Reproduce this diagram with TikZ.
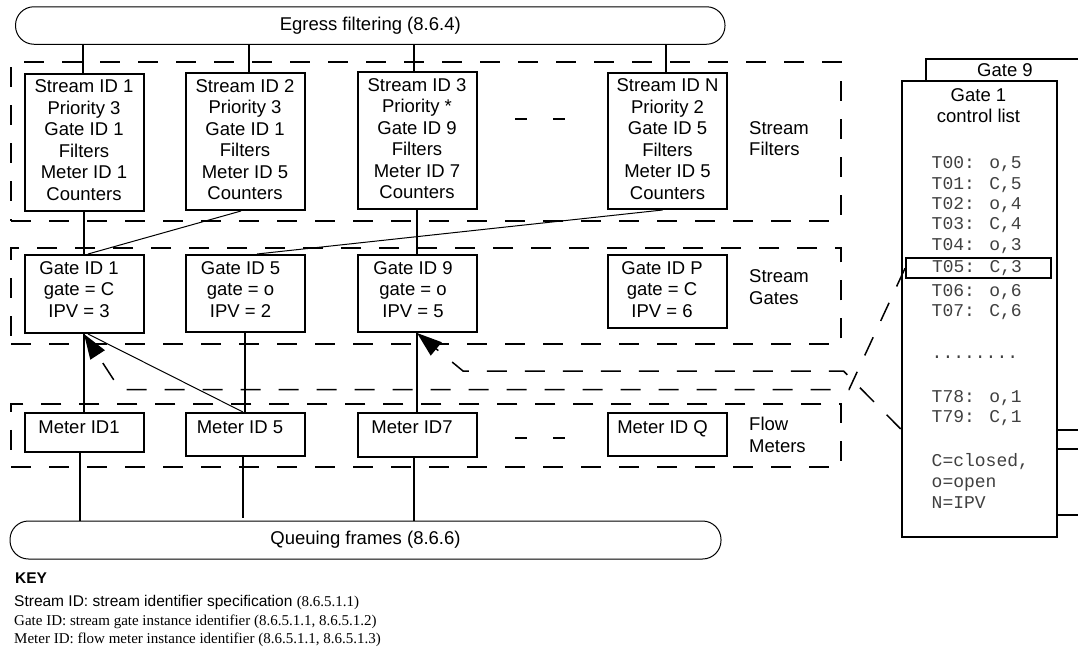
\documentclass[tikz,border=0pt]{standalone}
\usepackage{fontspec}
\setmainfont{Liberation Sans}
\newfontfamily\keyserif{Liberation Serif}
\newfontfamily\monofam{Liberation Mono}
\usetikzlibrary{arrows.meta}
\newcommand\mainsize{\fontsize{18.5}{21.5}\selectfont}
\newcommand\stk[3]{\raisebox{#2}[\height][\depth]{\begin{tabular}{@{}c@{}}#3\end{tabular}}\hspace*{#1}}
\newcommand\lft[1]{\begin{tabular}{@{}l@{}}#1\end{tabular}}
\begin{document}
\begin{tikzpicture}[x=1pt,y=-1pt,
  every node/.style={inner sep=0pt, font=\mainsize},
  box/.style={draw, line width=2pt, fill=white, minimum width=119pt},
  dbox/.style={draw, line width=2pt, dash pattern=on 20pt off 18pt, minimum width=830pt},
  bus/.style={draw, line width=1pt, rounded corners=18.5pt, fill=white},
  conn/.style={line width=2pt},
  diag/.style={line width=1pt},
  darr/.style={line width=1.5pt, dash pattern=on 20pt off 18pt, -{Triangle[length=25pt,width=17pt]}},
  lab/.style={anchor=west},
  listbox/.style={draw, line width=2pt, fill=white, anchor=north west},
  mono/.style={anchor=base west, font=\monofam\fontsize{18}{20}\selectfont, text=black!75},
  keyline/.style={anchor=base west},
]
\useasboundingbox (0,0) rectangle (1078,654);

% dashed group frames
\node[dbox, minimum height=158.7pt] (sfbox) at (426,141.35) {};
\node[dbox, minimum height=96pt] (sgbox) at (426,296.3) {};
\node[dbox, minimum height=62.4pt] (fmbox) at (426,435.5) {};

% buses
\node[bus, minimum width=709.5pt, minimum height=37.5pt] (egress) at (370.25,25.5) {Egress filtering (8.6.4)};
\node[bus, minimum width=711pt, minimum height=38pt] (queue) at (365.5,540) {Queuing frames (8.6.6)};

% group labels
\node[lab] (sflab) at (749,140.8) {\lft{Stream\\Filters}};
\node[lab] (sglab) at (749,289.3) {\lft{Stream\\Gates}};
\node[lab] (fmlab) at (749,437.3) {\lft{Flow\\Meters}};

% stream filters
\node[box, minimum height=137pt] (f1) at (84,142) {\stk{0pt}{0pt}{Stream ID 1\\Priority 3\\Gate ID 1\\Filters\\Meter ID 1\\Counters}};
\node[box, minimum height=137pt] (f2) at (245,141.5) {\stk{0pt}{0pt}{Stream ID 2\\Priority 3\\Gate ID 1\\Filters\\Meter ID 5\\Counters}};
\node[box, minimum height=137pt] (f3) at (417,140.5) {\stk{0pt}{0pt}{Stream ID 3\\Priority *\\Gate ID 9\\Filters\\Meter ID 7\\Counters}};
\node[box, minimum height=136pt] (fN) at (667.5,141) {\stk{0pt}{0pt}{Stream ID N\\Priority 2\\Gate ID 5\\Filters\\Meter ID 5\\Counters}};

% stream gates
\node[box, minimum height=78pt] (g1) at (84,294) {\stk{10pt}{2.7pt}{Gate ID 1\\gate = C\\IPV = 3}};
\node[box, minimum height=77pt] (g2) at (245,293.5) {\stk{9pt}{2.2pt}{Gate ID 5\\gate = o\\IPV = 2}};
\node[box, minimum height=77pt] (g3) at (417,293.5) {\stk{8pt}{2.2pt}{Gate ID 9\\gate = o\\IPV = 5}};
\node[box, minimum height=73pt] (gP) at (667.5,291.5) {\stk{11pt}{0.2pt}{Gate ID P\\gate = C\\IPV = 6}};

% flow meters
\node[box, minimum height=39pt] (m1) at (84,432.5) {\stk{10pt}{3.5pt}{Meter ID1}};
\node[box, minimum height=43pt] (m2) at (245,434.5) {\stk{10pt}{5.5pt}{Meter ID 5}};
\node[box, minimum height=44pt] (m3) at (417,435) {\stk{10pt}{6pt}{Meter ID7}};
\node[box, minimum height=43pt] (mQ) at (667.5,434.5) {\stk{10pt}{5.5pt}{Meter ID Q}};

% ellipsis dashes
\draw[conn] (515,119) -- (527,119);
\draw[conn] (553,119) -- (565,119);
\draw[conn] (515,438) -- (527,438);
\draw[conn] (553,438) -- (565,438);

% egress to filters
\draw[conn] ([xshift=-1pt]f1.north) -- ([xshift=-1pt]f1.north |- egress.south);
\draw[conn] ([xshift=4pt]f2.north) -- ([xshift=4pt]f2.north |- egress.south);
\draw[conn] ([xshift=-3pt]f3.north) -- ([xshift=-3pt]f3.north |- egress.south);
\draw[conn] ([xshift=-1.5pt]fN.north) -- ([xshift=-1.5pt]fN.north |- egress.south);

% filters to gates
\draw[conn] (f1.south) -- (g1.north);
\draw[diag] ([xshift=-4pt]f2.south) -- ([xshift=4pt]g1.north);
\draw[conn] (f3.south) -- (g3.north);
\draw[diag] ([xshift=-5pt]fN.south) -- ([xshift=12pt]g2.north);

% gates to meters
\draw[conn] (g1.south) -- (m1.north);
\draw[conn] (g2.south) -- (m2.north);
\draw[conn] (g3.south) -- (m3.north);
\draw[diag] ([xshift=-2pt]m2.north) -- ([xshift=4pt]g1.south);

% meters to queue
\draw[conn] ([xshift=-4pt]m1.south) -- ([xshift=-4pt]m1.south |- queue.north);
\draw[conn] ([xshift=-2pt]m2.south) -- ([xshift=-2pt,yshift=3pt]m2.south |- queue.north);
\draw[conn] ([xshift=-3pt]m3.south) -- ([xshift=-3pt]m3.south |- queue.north);

% gate control lists
\node[listbox, minimum width=200pt, minimum height=456pt] (g9list) at (925,58) {};
\node (g9t) at (1005,70.5) {Gate 9};
\node[draw, line width=2pt, anchor=north west, minimum width=100pt, minimum height=19pt] (g9row) at (1040,429) {};
\node[listbox, minimum width=155.3pt, minimum height=456pt] (g1list) at (900.7,80) {};
\node (g1t) at (978.5,107.8) {\stk{0pt}{0pt}{Gate 1\\control list}};
\coordinate (pB) at (900.7,429);

\node[draw, line width=2pt, minimum width=145pt, minimum height=20pt, font=\monofam\fontsize{18}{20}\selectfont, text=black!75] (t05) at (978.5,268.3) {\makebox[93pt][l]{T05: C,3}};
\node[mono] (t00) at (931.5,168.7) {T00: o,5};
\node[mono] (t01) at (931.5,189) {T01: C,5};
\node[mono] (t02) at (931.5,209.3) {T02: o,4};
\node[mono] (t03) at (931.5,229.7) {T03: C,4};
\node[mono] (t04) at (931.5,250) {T04: o,3};
\node[mono] (t06) at (931.5,296) {T06: o,6};
\node[mono] (t07) at (931.5,316.7) {T07: C,6};
\node[mono] (tdots) at (931.5,358) {........};
\node[mono] (t78) at (931.5,402.7) {T78: o,1};
\node[mono] (t79) at (931.5,422.7) {T79: C,1};
\node[mono] (lc) at (931.5,466) {C=closed,};
\node[mono] (lo) at (931.5,487) {o=open};
\node[mono] (ln) at (931.5,508.5) {N=IPV};

% dashed links from control lists to gates
\draw[darr] (t05.west) -- (849,389.5) -- (120,389.5) -- (g1.south);
\draw[darr] (pB) -- (843.5,371) -- (463,371) -- (g3.south);

% key
\node[keyline, font=\fontsize{15.5}{19}\selectfont\bfseries] (key) at (15,583) {KEY};
\node[keyline, font=\fontsize{15.5}{19}\selectfont] (k1) at (14,606) {Stream ID: stream identifier specification {\keyserif\fontsize{15}{19}\selectfont (8.6.5.1.1)}};
\node[keyline, font=\keyserif\fontsize{15}{19}\selectfont] (k2) at (14,625) {Gate ID: stream gate instance identifier (8.6.5.1.1, 8.6.5.1.2)};
\node[keyline, font=\keyserif\fontsize{15}{19}\selectfont] (k3) at (14,643.5) {Meter ID: flow meter instance identifier (8.6.5.1.1, 8.6.5.1.3)};
\end{tikzpicture}
\end{document}
